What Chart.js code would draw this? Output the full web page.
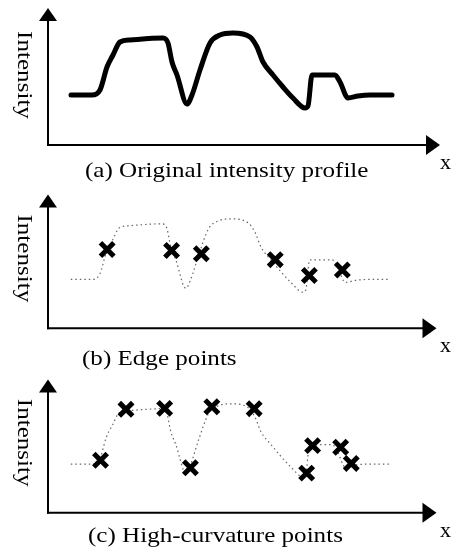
<!DOCTYPE html>
<html>
<head>
<meta charset="utf-8">
<script src="https://cdn.jsdelivr.net/npm/chart.js@4/dist/chart.umd.min.js"></script>
<style>
  html, body { margin: 0; padding: 0; background: #fff; }
  #wrap { position: relative; width: 451px; height: 550px; overflow: hidden; background: #fff; }
  #wrap canvas { position: absolute; left: 0; }
</style>
</head>
<body>
<div id="wrap">
  <canvas id="ca" width="451" height="190" style="top:0px"></canvas>
  <canvas id="cb" width="451" height="190" style="top:180px"></canvas>
  <canvas id="cc" width="451" height="185" style="top:365px"></canvas>
</div>
<script>
// ---- data (arbitrary units) ----
const profileX = [23, 44, 52, 59, 65, 72, 82, 115, 120, 124, 129, 139, 144, 152, 162, 172, 185, 202, 209, 215, 225, 235, 245, 257, 260, 264, 287, 292, 300, 310, 322, 344];
const profileY = [50, 50, 55, 78, 90, 103, 105, 107, 102, 83, 70, 41, 50, 75, 102, 110, 112, 108, 98, 83, 70, 58, 47, 37, 39, 70, 70, 63, 47, 49, 50, 50];

const edgeX = [59.7, 124.7, 154.7, 229.3, 263.7, 297];
const edgeY = [80.7, 79.7, 76.3, 70.3, 54, 59.7];

const curvX = [53, 78.7, 117.7, 143.7, 165.3, 208, 261, 267, 295.3, 306];
const curvY = [54, 106.3, 107.3, 46.3, 109, 107, 40.7, 69, 67.3, 50.7];

const xMax = 392;
const yMax = 137;

const captions = ["(a) Original intensity profile", "(b) Edge points", "(c) High-curvature points"];
const yLabel = "Intensity";
const xLabel = "x";

// ---- helpers ----
function pts(xs, ys) { return xs.map((x, i) => ({ x: x, y: ys[i] })); }

const FONT = '22px "Liberation Serif", "Times New Roman", serif';

function axesPlugin(caption, capLeft, capBase) {
  return {
    id: 'axesArrows',
    beforeDatasetsDraw(chart) {
      const ctx = chart.ctx;
      const sx = chart.scales.x, sy = chart.scales.y;
      const x0 = sx.getPixelForValue(0);
      const y0 = sy.getPixelForValue(0);
      const yTop = sy.getPixelForValue(yMax);
      const xTip = sx.getPixelForValue(xMax);
      ctx.save();
      ctx.strokeStyle = '#000';
      ctx.fillStyle = '#000';
      ctx.lineWidth = 2;
      ctx.lineCap = 'butt';
      // y axis
      ctx.beginPath();
      ctx.moveTo(x0, y0 + 1);
      ctx.lineTo(x0, yTop + 12);
      ctx.stroke();
      ctx.beginPath();
      ctx.moveTo(x0, yTop);
      ctx.lineTo(x0 - 9, yTop + 13);
      ctx.lineTo(x0 + 9, yTop + 13);
      ctx.closePath();
      ctx.fill();
      // x axis
      ctx.beginPath();
      ctx.moveTo(x0 - 1, y0);
      ctx.lineTo(xTip - 13, y0);
      ctx.stroke();
      ctx.beginPath();
      ctx.moveTo(xTip, y0);
      ctx.lineTo(xTip - 14, y0 - 10);
      ctx.lineTo(xTip - 14, y0 + 10);
      ctx.closePath();
      ctx.fill();

      ctx.font = FONT;
      // y label, rotated clockwise
      ctx.save();
      ctx.translate(18, y0 - 70);
      ctx.rotate(Math.PI / 2);
      ctx.scale(1.14, 1);
      ctx.textAlign = 'center';
      ctx.textBaseline = 'alphabetic';
      ctx.fillText(yLabel, 0, 0);
      ctx.restore();
      // x label
      ctx.textAlign = 'left';
      ctx.textBaseline = 'alphabetic';
      ctx.fillText(xLabel, 440, y0 + 24);
      // caption
      ctx.save();
      ctx.translate(capLeft, capBase);
      ctx.scale(1.14, 1);
      ctx.fillText(caption, 0, 0);
      ctx.restore();
      ctx.restore();
    }
  };
}

function baseOptions(padTop, padBottom) {
  return {
    responsive: false,
    animation: false,
    devicePixelRatio: 1,
    layout: { padding: { left: 48, right: 11, top: padTop, bottom: padBottom } },
    plugins: { legend: { display: false }, tooltip: { enabled: false }, title: { display: false } },
    events: [],
    scales: {
      x: { type: 'linear', min: 0, max: xMax, display: false },
      y: { type: 'linear', min: 0, max: yMax, display: false }
    },
    clip: false
  };
}

const profileSolid = {
  data: pts(profileX, profileY),
  borderColor: '#000',
  borderWidth: 5,
  borderCapStyle: 'round',
  borderJoinStyle: 'round',
  cubicInterpolationMode: 'monotone',
  pointRadius: 0,
  fill: false
};
function profileDotted() {
  return {
    data: pts(profileX, profileY),
    borderColor: '#666',
    borderWidth: 1.2,
    borderDash: [1.5, 3],
    cubicInterpolationMode: 'monotone',
    pointRadius: 0,
    fill: false,
    order: 2
  };
}
function crosses(xs, ys) {
  return {
    data: pts(xs, ys),
    showLine: false,
    pointStyle: 'crossRot',
    pointRadius: 9.5,
    pointBorderWidth: 5,
    pointBorderColor: '#000',
    pointBackgroundColor: '#000',
    borderColor: '#000',
    order: 1
  };
}

new Chart(document.getElementById('ca'), {
  type: 'line',
  data: { datasets: [profileSolid] },
  options: baseOptions(8, 45),
  plugins: [axesPlugin(captions[0], 85, 177)]
});

new Chart(document.getElementById('cb'), {
  type: 'line',
  data: { datasets: [profileDotted(), crosses(edgeX, edgeY)] },
  options: baseOptions(11.5, 41.7),
  plugins: [axesPlugin(captions[1], 82, 185)]
});

new Chart(document.getElementById('cc'), {
  type: 'line',
  data: { datasets: [profileDotted(), crosses(curvX, curvY)] },
  options: baseOptions(10, 37.3),
  plugins: [axesPlugin(captions[2], 88, 176.5)]
});
</script>
</body>
</html>
